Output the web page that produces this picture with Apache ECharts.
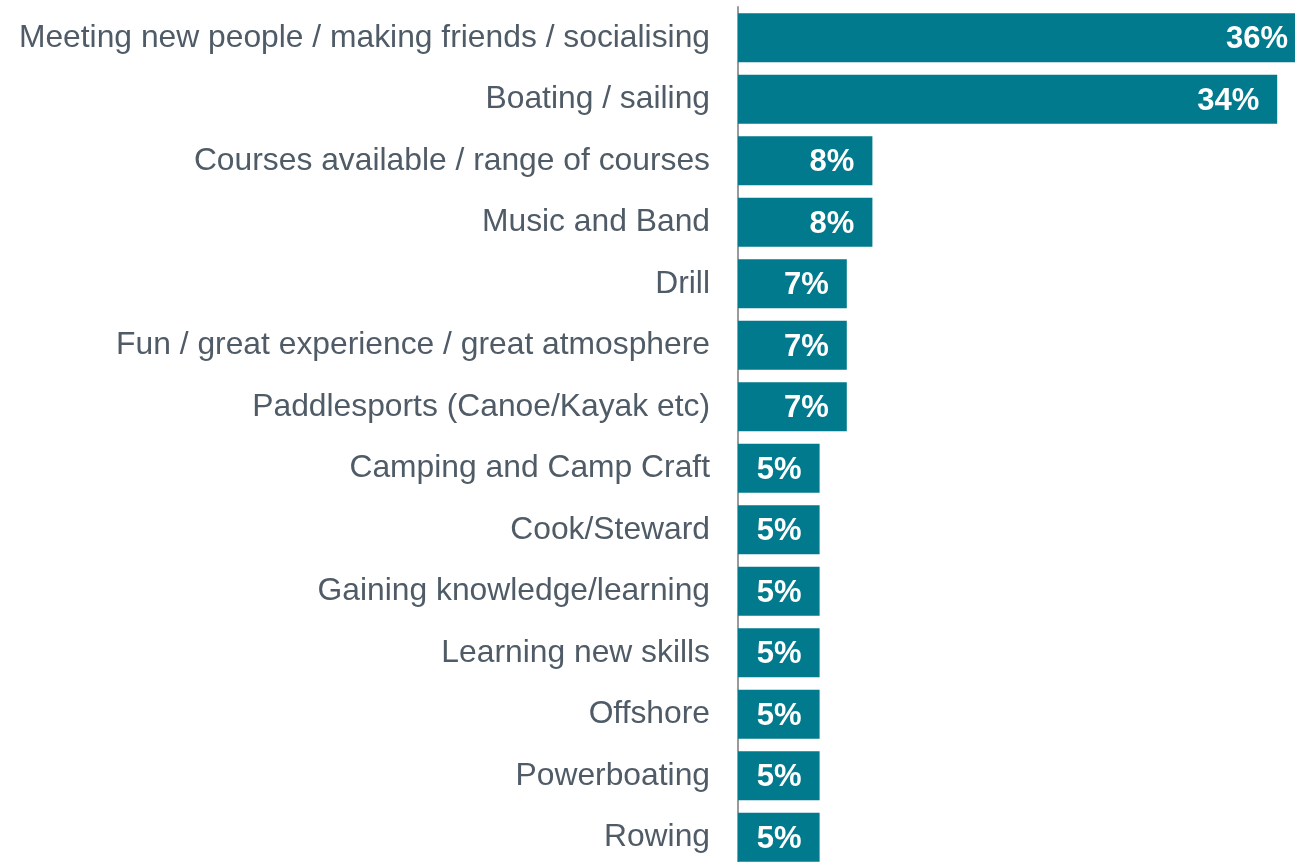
<!DOCTYPE html>
<html>
<head>
<meta charset="utf-8">
<script src="https://cdn.jsdelivr.net/npm/echarts@6/dist/echarts.min.js"></script>
<style>
  html, body { margin: 0; padding: 0; background: #fff; }
  #chart { width: 1295px; height: 862px; }
</style>
</head>
<body>
<div id="chart"></div>
<script>
// categories, top to bottom
const categories = [
  "Meeting new people / making friends / socialising",
  "Boating / sailing",
  "Courses available / range of courses",
  "Music and Band",
  "Drill",
  "Fun / great experience / great atmosphere",
  "Paddlesports (Canoe/Kayak etc)",
  "Camping and Camp Craft",
  "Cook/Steward",
  "Gaining knowledge/learning",
  "Learning new skills",
  "Offshore",
  "Powerboating",
  "Rowing"
];

// share of respondents (%)
const values = [35.5, 33.7, 8.4, 8.4, 6.8, 6.8, 6.8, 5.1, 5.1, 5.1, 5.1, 5.1, 5.1, 5.1];

const barColor = "#007a8c";
const labelColor = "#4f5b66";
const font = "Liberation Sans, Arial, sans-serif";

const chart = echarts.init(document.getElementById("chart"), null, { renderer: "canvas" });

// the plot runs past the right and bottom edges, as in the source slide
chart.setOption({
  animation: false,
  backgroundColor: "#fff",
  grid: {
    left: 738, top: 7, width: 640, height: 861,
    containLabel: false,
    outerBoundsMode: "none"
  },
  xAxis: {
    type: "value",
    min: 0,
    max: 40,
    show: false
  },
  yAxis: {
    type: "category",
    inverse: true,
    data: categories,
    axisLine: { show: true, lineStyle: { color: "#9a9a9a", width: 2 } },
    axisTick: { show: false },
    axisLabel: {
      color: labelColor,
      fontFamily: font,
      fontSize: 31.8,
      margin: 28,
      padding: [3, 0, 0, 0]
    }
  },
  series: [{
    type: "bar",
    data: values,
    barCategoryGap: "20%",
    itemStyle: { color: barColor },
    label: {
      show: true,
      position: "insideRight",
      distance: 18,
      offset: [0, 2],
      color: "#fff",
      fontWeight: "bold",
      fontFamily: font,
      fontSize: 31,
      formatter: (p) => Math.round(p.value) + "%"
    }
  }]
});
</script>
</body>
</html>
